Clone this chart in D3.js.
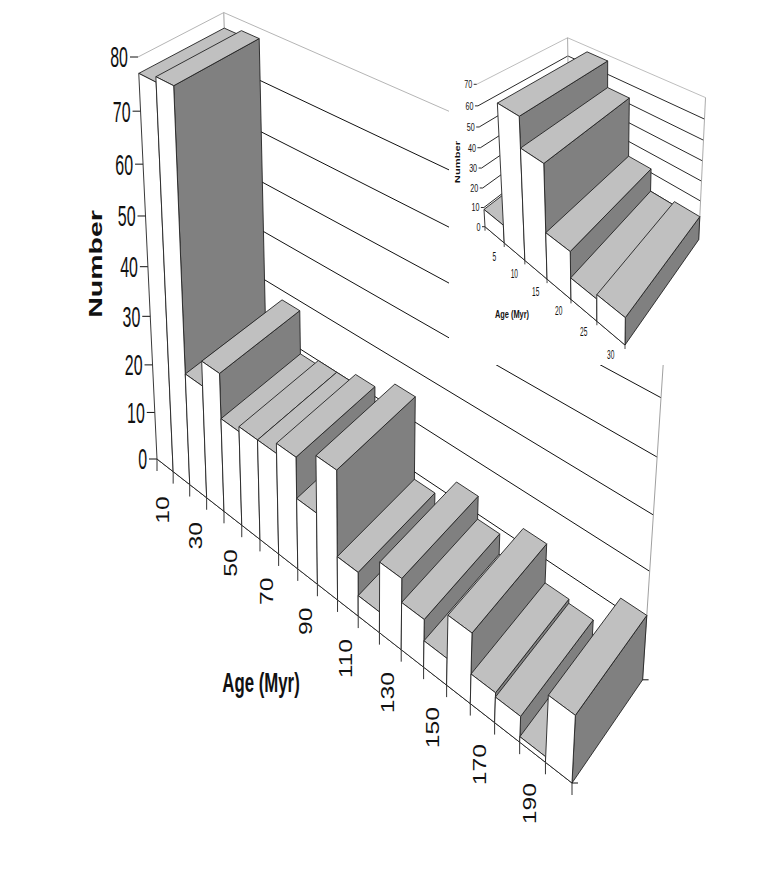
<!DOCTYPE html>
<html>
<head>
<meta charset="utf-8">
<script src="https://cdn.jsdelivr.net/npm/d3@7/dist/d3.min.js"></script>
<style>
html, body { margin: 0; padding: 0; background: #fff; }
svg { display: block; }
text { font-family: "Liberation Sans", Arial, sans-serif; fill: #111; }
</style>
</head>
<body>
<svg id="chart" width="763" height="872"></svg>
<script>
// main chart
var ages = [10, 20, 30, 40, 50, 60, 70, 80, 90, 100, 110, 120, 130, 140, 150, 160, 170, 180, 190, 200];
var counts = [77, 78, 23, 28, 19, 20, 20, 22, 14, 25, 8.5, 4, 13.5, 9, 5, 13, 5.5, 4.7, 1, 12];
var ageLabels = [10, 30, 50, 70, 90, 110, 130, 150, 170, 190];

// inset chart
var insetAges = [5, 10, 15, 20, 25, 30];
var insetCounts = [9, 67, 53, 22, 10, 12];

var svg = d3.select("#chart");

// perspective box: p0 floor front left, pU floor front right, pV top front left, pW floor back left
// ka, kb, kc are the perspective terms along each box edge
var mainBox = { p0: [157, 459], pU: [572, 783], pV: [138, 57], pW: [235, 396], ka: -0.23, kb: -0.083, kc: 0.058 };
var insetBox = { p0: [485, 226.7], pU: [625, 345], pV: [476.7, 84.3], pW: [569.5, 159], ka: -0.204, kb: -0.066, kc: 0.2 };

function makeProjection(box) {
    return function (u, v, w) {
        var d = 1 + box.ka * u + box.kb * v + box.kc * w;
        return [0, 1].map(function (i) {
            return (box.p0[i]
                + u * (box.pU[i] * (1 + box.ka) - box.p0[i])
                + v * (box.pV[i] * (1 + box.kb) - box.p0[i])
                + w * (box.pW[i] * (1 + box.kc) - box.p0[i])) / d;
        });
    };
}

var line = d3.line();

function closed(points) {
    return line(points) + "Z";
}

function drawChart(g, cfg) {
    var project = makeProjection(cfg.box);
    var x = d3.scaleBand().domain(cfg.ages).range([0, 1]);
    var y = d3.scaleLinear().domain([0, cfg.yMax]).range([0, 1]);
    var ticks = y.ticks(cfg.yMax / 10);

    // walls
    g.append("g").selectAll("path")
        .data(ticks)
      .enter()
        .append("path")
        .attr("fill", "none")
        .attr("stroke", function (d) { return d === cfg.yMax ? "#b5b5b5" : "#111"; })
        .attr("stroke-width", cfg.gridWidth)
        .attr("d", function (d) {
            return line([project(0, y(d), 0), project(0, y(d), 1), project(1, y(d), 1)]);
        });

    [0, 1].forEach(function (u) {
        g.append("path")
            .attr("stroke", "#a0a0a0")
            .attr("stroke-width", cfg.gridWidth)
            .attr("d", line([project(u, y(0), 1), project(u, y(cfg.yMax), 1)]));
    });

    // front floor line with the age ticks
    g.append("path")
        .attr("stroke", "#111")
        .attr("stroke-width", cfg.gridWidth)
        .attr("d", line([project(0, 0, 0), project(1, 0, 0)]));

    g.append("g").selectAll("path")
        .data(cfg.ages.concat(["end"]))
      .enter()
        .append("path")
        .attr("stroke", "#333")
        .attr("stroke-width", cfg.gridWidth)
        .attr("d", function (d) {
            var p = project(d === "end" ? 1 : x(d), 0, 0);
            return line([p, [p[0], p[1] + cfg.tickLen]]);
        });

    // y axis ticks and labels
    g.append("g").selectAll("path")
        .data(ticks)
      .enter()
        .append("path")
        .attr("stroke", "#111")
        .attr("stroke-width", cfg.gridWidth)
        .attr("d", function (d) {
            var p = project(0, y(d), 0);
            return line([[p[0] - cfg.yTick, p[1]], p]);
        });

    g.append("g").selectAll("text")
        .data(ticks)
      .enter()
        .append("text")
        .attr("text-anchor", "end")
        .attr("font-size", cfg.yFont)
        .attr("transform", function (d) {
            var p = project(0, y(d), 0);
            return "translate(" + (p[0] - cfg.yTick - cfg.yGap) + "," + (p[1] + cfg.yFont * 0.36) + ") scale(" + cfg.yStretch + ",1)";
        })
        .text(function (d) { return d; });

    // bars, left to right so the nearer ones paint over
    var bars = g.append("g").selectAll("g")
        .data(cfg.counts)
      .enter()
        .append("g")
        .attr("stroke", "#222")
        .attr("stroke-width", cfg.barWidth)
        .attr("stroke-linejoin", "round");

    function corners(d, i) {
        var u0 = x(cfg.ages[i]), u1 = u0 + x.bandwidth(), v = y(d);
        return { u0: u0, u1: u1, v: v };
    }

    bars.append("path")
        .attr("fill", "#808080")
        .attr("d", function (d, i) {
            var c = corners(d, i);
            return closed([project(c.u1, 0, 0), project(c.u1, 0, 1), project(c.u1, c.v, 1), project(c.u1, c.v, 0)]);
        });

    bars.append("path")
        .attr("fill", "#c0c0c0")
        .attr("d", function (d, i) {
            var c = corners(d, i);
            return closed([project(c.u0, c.v, 0), project(c.u0, c.v, 1), project(c.u1, c.v, 1), project(c.u1, c.v, 0)]);
        });

    bars.append("path")
        .attr("fill", "#fff")
        .attr("d", function (d, i) {
            var c = corners(d, i);
            return closed([project(c.u0, 0, 0), project(c.u0, c.v, 0), project(c.u1, c.v, 0), project(c.u1, 0, 0)]);
        });
}

var main = svg.append("g");
drawChart(main, {
    box: mainBox,
    ages: ages, counts: counts, yMax: 80,
    gridWidth: 1, barWidth: 0.9, tickLen: 12, yTick: 8, yGap: 2,
    yFont: 29, yStretch: 0.55
});

// small ticks on the two right floor corners
var mainProject = makeProjection(mainBox);
[0, 1].forEach(function (w) {
    var p = mainProject(1, 0, w);
    main.append("path").attr("stroke", "#111").attr("d", line([p, [p[0] + 6, p[1]]]));
});

var ageBand = d3.scaleBand().domain(ages).range([0, 1]);
main.append("g").selectAll("text")
    .data(ageLabels)
  .enter()
    .append("text")
    .attr("text-anchor", "end")
    .attr("font-size", 18)
    .attr("transform", function (d) {
        var p = mainProject(ageBand(d) + ageBand.bandwidth() / 2, 0, 0);
        return "translate(" + (p[0] + 4) + "," + (p[1] + 31) + ") rotate(-90) scale(1.37,1)";
    })
    .text(function (d) { return d; });

main.append("text")
    .attr("text-anchor", "middle")
    .attr("font-size", 19)
    .attr("font-weight", "bold")
    .attr("transform", "translate(102,264) rotate(-90) scale(1.5,1)")
    .text("Number");

main.append("text")
    .attr("text-anchor", "middle")
    .attr("font-size", 28)
    .attr("font-weight", "bold")
    .attr("transform", "translate(261,692) scale(0.6,1)")
    .text("Age (Myr)");

// the inset sits on a white patch over the main chart
svg.append("rect")
    .attr("x", 449).attr("y", 20)
    .attr("width", 300).attr("height", 345)
    .attr("fill", "#fff");

var inset = svg.append("g");
drawChart(inset, {
    box: insetBox,
    ages: insetAges, counts: insetCounts, yMax: 70,
    gridWidth: 0.9, barWidth: 0.9, tickLen: 4, yTick: 3, yGap: 1.5,
    yFont: 11, yStretch: 0.65
});

var insetProject = makeProjection(insetBox);
var insetBand = d3.scaleBand().domain(insetAges).range([0, 1]);
inset.append("g").selectAll("text")
    .data(insetAges)
  .enter()
    .append("text")
    .attr("text-anchor", "middle")
    .attr("font-size", 12)
    .attr("transform", function (d) {
        var p = insetProject(insetBand(d) + insetBand.bandwidth() / 2, 0, 0);
        return "translate(" + p[0] + "," + (p[1] + 26) + ") scale(0.55,1)";
    })
    .text(function (d) { return d; });

inset.append("text")
    .attr("text-anchor", "middle")
    .attr("font-size", 7)
    .attr("font-weight", "bold")
    .attr("transform", "translate(460,162) rotate(-90) scale(1.6,1)")
    .text("Number");

inset.append("text")
    .attr("text-anchor", "middle")
    .attr("font-size", 10)
    .attr("font-weight", "bold")
    .attr("transform", "translate(512,318) scale(0.74,1)")
    .text("Age (Myr)");
</script>
</body>
</html>
